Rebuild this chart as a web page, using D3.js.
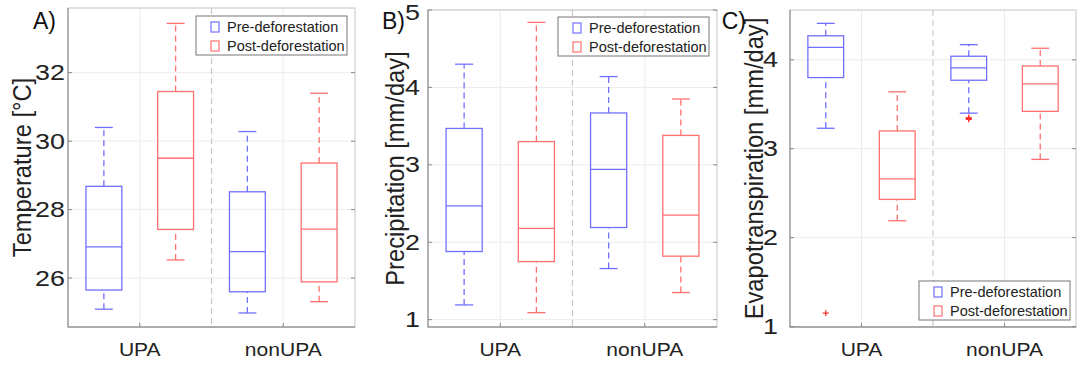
<!DOCTYPE html>
<meta charset="utf-8">
<title>deforestation boxplots</title>
<body>
<script src="https://cdn.jsdelivr.net/npm/d3@7"></script>
<style>
html, body {
    margin: 0;
    background: #fff;
}
svg {
    display: block;
    font-family: "Liberation Sans", Arial, sans-serif;
}
</style>
<script>
var width = 1077,
    height = 365;

var groups = ["UPA", "nonUPA"],
    series = ["Pre-deforestation", "Post-deforestation"],
    colors = ["#7070ff", "#ff7070"];

// each box: [low whisker, q1, median, q3, high whisker]
var tempPre  = [[25.09, 25.65, 26.91, 28.68, 30.40], [24.98, 25.60, 26.77, 28.52, 30.28]],
    tempPost = [[26.53, 27.42, 29.50, 31.45, 33.44], [25.31, 25.89, 27.43, 29.36, 31.40]];
var precPre  = [[1.19, 1.88, 2.47, 3.47, 4.30], [1.66, 2.19, 2.94, 3.67, 4.14]],
    precPost = [[1.09, 1.75, 2.18, 3.30, 4.84], [1.35, 1.82, 2.35, 3.38, 3.85]];
var etPre    = [[3.23, 3.80, 4.14, 4.27, 4.41], [3.40, 3.77, 3.91, 4.04, 4.17]],
    etPost   = [[2.19, 2.43, 2.66, 3.20, 3.64], [2.88, 3.42, 3.73, 3.93, 4.13]];

// outliers: [group index, series index, value]
var etOutliers = [[0, 0, 1.15], [1, 0, 3.34], [1, 0, 3.35], [1, 0, 3.33]];

var tempTicks = [26, 28, 30, 32],
    precTicks = [1, 2, 3, 4, 5],
    etTicks   = [1, 2, 3, 4];

var panels = [
    { letter: "A)", label: "Temperature [°C]", pre: tempPre, post: tempPost, outliers: [],
      domain: [24.57, 33.89], ticks: tempTicks,
      x0: 68, x1: 355, y0: 8, y1: 327, labelX: 31, letterEnd: 56, tickGap: 3,
      legend: { x: 196, y: 16 } },
    { letter: "B)", label: "Precipitation [mm/day]", pre: precPre, post: precPost, outliers: [],
      domain: [0.905, 5.0], ticks: precTicks,
      x0: 428, x1: 717, y0: 10, y1: 327, labelX: 404, letterEnd: 405, tickGap: 8,
      legend: { x: 558, y: 17 } },
    { letter: "C)", label: "Evapotranspiration [mm/day]", pre: etPre, post: etPost, outliers: etOutliers,
      domain: [0.995, 4.56], ticks: etTicks,
      x0: 790, x1: 1076, y0: 10, y1: 327, labelX: 763, letterEnd: 746, tickGap: 12,
      legend: { x: 919, y: 281 } }
];

var svg = d3.select("body").append("svg")
    .attr("width", width)
    .attr("height", height);

panels.forEach(function(p) {
    var g = svg.append("g");

    var x = d3.scaleLinear().domain([0.5, 2.5]).range([p.x0, p.x1]);
    var y = d3.scaleLinear().domain(p.domain).range([p.y1, p.y0]);

    // grid
    g.selectAll(".hgrid").data(p.ticks).enter().append("line")
        .attr("x1", p.x0).attr("x2", p.x1)
        .attr("y1", function(d) { return y(d); })
        .attr("y2", function(d) { return y(d); })
        .attr("stroke", "#ececec");
    g.selectAll(".vgrid").data([1, 2]).enter().append("line")
        .attr("x1", function(d) { return x(d); })
        .attr("x2", function(d) { return x(d); })
        .attr("y1", p.y0).attr("y2", p.y1)
        .attr("stroke", "#ececec");

    // group separator
    g.append("line")
        .attr("x1", x(1.5)).attr("x2", x(1.5))
        .attr("y1", p.y0).attr("y2", p.y1)
        .attr("stroke", "#c8c8c8")
        .attr("stroke-width", 1.2)
        .attr("stroke-dasharray", "6,4");

    // axes frame
    g.append("rect")
        .attr("x", p.x0).attr("y", p.y0)
        .attr("width", p.x1 - p.x0).attr("height", p.y1 - p.y0)
        .attr("fill", "none")
        .attr("stroke", "#c4c4c4");
    g.append("path")
        .attr("d", "M" + p.x0 + "," + p.y0 + "V" + p.y1 + "H" + p.x1)
        .attr("fill", "none")
        .attr("stroke", "#9a9a9a")
        .attr("stroke-width", 1.3);

    // tick marks inside
    p.ticks.forEach(function(t) {
        g.append("line").attr("x1", p.x0).attr("x2", p.x0 + 4)
            .attr("y1", y(t)).attr("y2", y(t)).attr("stroke", "#888");
        g.append("line").attr("x1", p.x1).attr("x2", p.x1 - 4)
            .attr("y1", y(t)).attr("y2", y(t)).attr("stroke", "#888");
    });
    [1, 2].forEach(function(t) {
        g.append("line").attr("x1", x(t)).attr("x2", x(t))
            .attr("y1", p.y1).attr("y2", p.y1 - 4).attr("stroke", "#888");
    });

    // tick labels (top one pushed down so it stays inside the picture)
    g.selectAll(".ytick").data(p.ticks).enter().append("text")
        .attr("transform", function(d) {
            return "translate(" + (p.x0 - p.tickGap) + "," + Math.max(y(d) + 7.5, 20) + ") scale(1.25,1)";
        })
        .attr("text-anchor", "end")
        .attr("font-size", 21.5)
        .attr("fill", "#222")
        .text(function(d) { return d; });

    g.selectAll(".xtick").data(groups).enter().append("text")
        .attr("transform", function(d, i) {
            return "translate(" + x(i + 1) + ",356) scale(1.17,1)";
        })
        .attr("text-anchor", "middle")
        .attr("font-size", 18)
        .attr("fill", "#222")
        .text(function(d) { return d; });

    // y label
    g.append("text")
        .attr("transform", "translate(" + p.labelX + "," + ((p.y0 + p.y1) / 2) + ") scale(1.1,1) rotate(-90)")
        .attr("text-anchor", "middle")
        .attr("font-size", 23.7)
        .attr("fill", "#222")
        .text(p.label);

    // panel letter
    g.append("text")
        .attr("x", p.letterEnd)
        .attr("y", 29)
        .attr("text-anchor", "end")
        .attr("font-size", 23)
        .attr("fill", "#111")
        .text(p.letter);

    // boxes
    var half = 0.125;
    [p.pre, p.post].forEach(function(data, si) {
        data.forEach(function(b, gi) {
            var c = gi + 1 + (si === 0 ? -0.25 : 0.25),
                col = colors[si];
            // whiskers
            [[b[0], b[1]], [b[3], b[4]]].forEach(function(w) {
                g.append("line")
                    .attr("x1", x(c)).attr("x2", x(c))
                    .attr("y1", y(w[0])).attr("y2", y(w[1]))
                    .attr("stroke", col)
                    .attr("stroke-width", 1.3)
                    .attr("stroke-dasharray", "6,4");
            });
            [b[0], b[4]].forEach(function(v) {
                g.append("line")
                    .attr("x1", x(c - half / 2)).attr("x2", x(c + half / 2))
                    .attr("y1", y(v)).attr("y2", y(v))
                    .attr("stroke", col)
                    .attr("stroke-width", 1.3);
            });
            g.append("rect")
                .attr("x", x(c - half)).attr("y", y(b[3]))
                .attr("width", x(c + half) - x(c - half))
                .attr("height", y(b[1]) - y(b[3]))
                .attr("fill", "none")
                .attr("stroke", col)
                .attr("stroke-width", 1.3);
            g.append("line")
                .attr("x1", x(c - half)).attr("x2", x(c + half))
                .attr("y1", y(b[2])).attr("y2", y(b[2]))
                .attr("stroke", col)
                .attr("stroke-width", 1.3);
        });
    });

    // outliers
    p.outliers.forEach(function(o) {
        var c = o[0] + 1 + (o[1] === 0 ? -0.25 : 0.25),
            cx = x(c), cy = y(o[2]);
        g.append("path")
            .attr("d", "M" + (cx - 3) + "," + cy + "H" + (cx + 3) + "M" + cx + "," + (cy - 3) + "V" + (cy + 3))
            .attr("stroke", "#ff3030")
            .attr("stroke-width", 1.2);
    });

    // legend
    var lg = g.append("g").attr("transform", "translate(" + p.legend.x + "," + p.legend.y + ")");
    lg.append("rect")
        .attr("width", 151).attr("height", 39)
        .attr("fill", "#fff")
        .attr("stroke", "#777");
    series.forEach(function(s, i) {
        var yy = 11 + i * 19;
        lg.append("rect")
            .attr("x", 15).attr("y", yy - 5)
            .attr("width", 8).attr("height", 10)
            .attr("fill", "none")
            .attr("stroke", colors[i])
            .attr("stroke-width", 1.2);
        lg.append("text")
            .attr("x", 31).attr("y", yy + 5)
            .attr("font-size", 14.5)
            .attr("fill", "#222")
            .text(s);
    });
});
</script>
